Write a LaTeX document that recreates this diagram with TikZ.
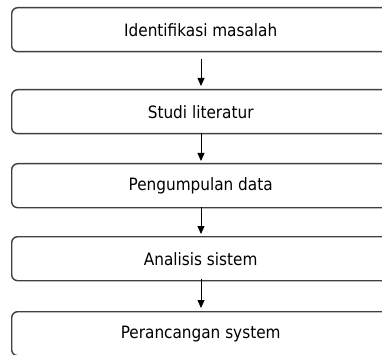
\documentclass[tikz,border=0pt]{standalone}
\usepackage{fontspec}
\setmainfont{DejaVu Sans Condensed}
\usetikzlibrary{arrows.meta}
\definecolor{edge}{HTML}{404040}
\tikzset{
  x=1pt, y=-1pt,
  stage/.style={draw=edge, line width=1.4pt, rounded corners=6pt,
    minimum width=378pt, minimum height=44pt, anchor=north west,
    inner sep=0pt, font=\fontsize{17}{20}\selectfont, text=black},
  flow/.style={draw=black, line width=0.8pt,
    -{Triangle[length=8pt,width=7pt]}}
}
\begin{document}
\begin{tikzpicture}
\useasboundingbox (0,0) rectangle (382,355);
\clip (0,0) rectangle (382,355);
\node[stage] (s1) at (11,7)   {Identifikasi masalah};
\node[stage] (s2) at (11,89)  {Studi literatur};
\node[stage] (s3) at (11,163) {Pengumpulan data};
\node[stage] (s4) at (11,236) {Analisis sistem};
\node[stage] (s5) at (11,311) {Perancangan system};
\coordinate (a1) at (201,59);
\coordinate (b1) at (201,86);
\coordinate (a2) at (201,133);
\coordinate (b2) at (201,161);
\coordinate (a3) at (201,207);
\coordinate (b3) at (201,234);
\coordinate (a4) at (201,279);
\coordinate (b4) at (201,308);
\draw[flow] (a1) -- (b1);
\draw[flow] (a2) -- (b2);
\draw[flow] (a3) -- (b3);
\draw[flow] (a4) -- (b4);
\end{tikzpicture}
\end{document}
